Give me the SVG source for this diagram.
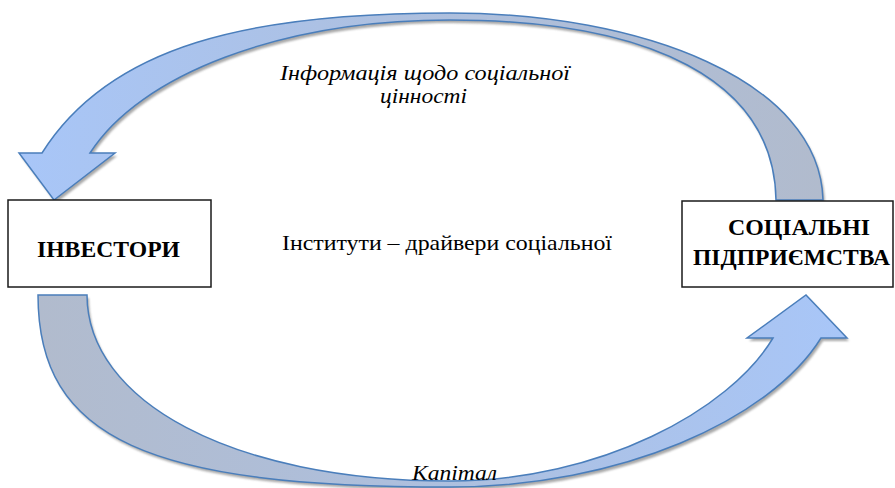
<svg xmlns="http://www.w3.org/2000/svg" width="895" height="488" viewBox="0 0 895 488">
<style>
.arrow{stroke:#4a7ebb;stroke-width:1.5;stroke-linejoin:miter}
.shadow{fill:#8c8c8c;opacity:0.75}
.box{fill:#ffffff;stroke:#1a1a1a;stroke-width:1.5}
text{font-family:"Liberation Serif","Times New Roman",serif;fill:#000}
.bold{font-weight:bold;font-size:23px}
.ital{font-style:italic;font-size:21px}
.reg{font-size:21px}
</style>
<defs>
<linearGradient id="gTop" x1="0" y1="0" x2="1" y2="0">
<stop offset="0" stop-color="#a8c6f8"/>
<stop offset="0.45" stop-color="#adc0e0"/>
<stop offset="1" stop-color="#b1bbcd"/>
</linearGradient>
<linearGradient id="gBot" x1="0" y1="0" x2="1" y2="0">
<stop offset="0" stop-color="#b1bbcd"/>
<stop offset="0.55" stop-color="#adc0e0"/>
<stop offset="1" stop-color="#a8c6f8"/>
</linearGradient>
<filter id="blur" x="-5%" y="-5%" width="110%" height="110%"><feGaussianBlur stdDeviation="1"/></filter>
<path id="topPath" d="M 823,200 C 820,80 640,13 450,13 C 250,13 110,45 42,153 L 19,153 L 54,200 L 115,153 L 90,153 C 140,75 280,20 450,20 C 650,20 774,80 776,200 Z"/>
<path id="botPath" d="M 38,295 C 38,440 150,487 450,487 C 620,487 770,420 821,338 L 847,338 L 806,295 L 747,338 L 773,338 C 730,410 600,481 450,481 C 230,481 87,400 87,295 Z"/>
</defs>
<g id="connectors">
<g id="arrow-info">
<use href="#topPath" class="shadow" transform="translate(2,3)" filter="url(#blur)"/>
<use href="#topPath" class="arrow" fill="url(#gTop)"/>
</g>
<g id="arrow-capital">
<use href="#botPath" class="shadow" transform="translate(2,3)" filter="url(#blur)"/>
<use href="#botPath" class="arrow" fill="url(#gBot)"/>
</g>
</g>
<g id="node-investors">
<rect class="box" x="8" y="200" width="203" height="87"/>
<text class="bold" x="37" y="257" textLength="143" lengthAdjust="spacingAndGlyphs">ІНВЕСТОРИ</text>
</g>
<g id="node-social-enterprises">
<rect class="box" x="682" y="201" width="211" height="86"/>
<text class="bold" x="728" y="235" textLength="142" lengthAdjust="spacingAndGlyphs">СОЦІАЛЬНІ</text>
<text class="bold" x="693" y="265" textLength="197" lengthAdjust="spacingAndGlyphs">ПІДПРИЄМСТВА</text>
</g>
<g id="label-info">
<text class="ital" x="280" y="80" textLength="290" lengthAdjust="spacingAndGlyphs">Інформація щодо соціальної</text>
<text class="ital" x="380" y="103" textLength="87" lengthAdjust="spacingAndGlyphs">цінності</text>
</g>
<g id="label-institutes">
<text class="reg" x="282" y="250" textLength="330" lengthAdjust="spacingAndGlyphs">Інститути – драйвери соціальної</text>
</g>
<g id="label-capital">
<text class="ital" x="412" y="480" textLength="85" lengthAdjust="spacingAndGlyphs">Капітал</text>
</g>
</svg>
